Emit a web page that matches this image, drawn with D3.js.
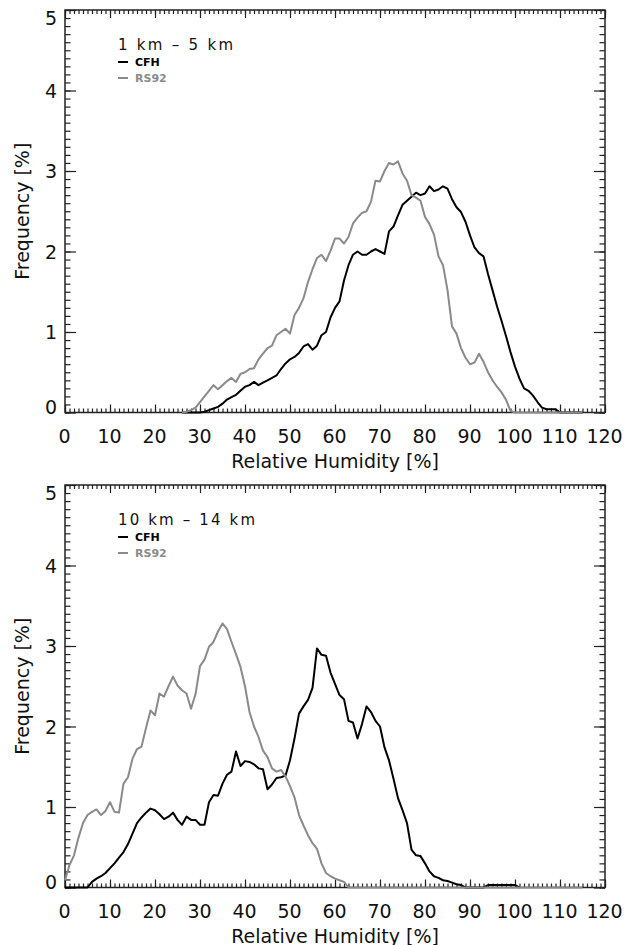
<!DOCTYPE html>
<meta charset="utf-8">
<style>
  body { margin: 0; background: #fff; }
  svg text { font-family: "DejaVu Sans", sans-serif; fill: #111; }
</style>
<svg width="628" height="945"></svg>
<script src="https://d3js.org/d3.v7.min.js"></script>
<script>

// relative humidity bins (1 % wide)
var binsTop = d3.range(26, 116);
var binsBot = d3.range(0, 116);

// 1 km - 5 km
var cfhTop = [0, 0, 0, 0, 0, 0.01, 0.03, 0.05, 0.07, 0.11,
  0.16, 0.19, 0.22, 0.27, 0.32, 0.34, 0.38, 0.34, 0.37, 0.40,
  0.43, 0.46, 0.54, 0.61, 0.66, 0.69, 0.74, 0.82, 0.85, 0.78,
  0.83, 0.96, 1.00, 1.18, 1.30, 1.38, 1.64, 1.83, 1.96, 2.00,
  1.96, 1.96, 2.00, 2.03, 2.00, 1.97, 2.25, 2.31, 2.45, 2.58,
  2.63, 2.68, 2.73, 2.70, 2.72, 2.81, 2.75, 2.77, 2.81, 2.78,
  2.65, 2.55, 2.49, 2.37, 2.20, 2.05, 1.98, 1.94, 1.72, 1.52,
  1.32, 1.14, 0.95, 0.75, 0.57, 0.42, 0.30, 0.27, 0.21, 0.13,
  0.06, 0.04, 0.04, 0.04, 0, 0, 0, 0, 0, 0];
var rs92Top = [0, 0.01, 0.03, 0.06, 0.13, 0.20, 0.27, 0.34, 0.29, 0.34,
  0.39, 0.43, 0.38, 0.48, 0.50, 0.54, 0.55, 0.66, 0.73, 0.80,
  0.83, 0.96, 1.00, 1.04, 0.98, 1.21, 1.30, 1.42, 1.62, 1.78,
  1.92, 1.96, 1.88, 2.01, 2.16, 2.16, 2.10, 2.18, 2.35, 2.42,
  2.48, 2.50, 2.62, 2.88, 2.87, 3.00, 3.10, 3.08, 3.12, 2.97,
  2.88, 2.70, 2.67, 2.63, 2.43, 2.34, 2.21, 1.94, 1.83, 1.52,
  1.07, 0.98, 0.80, 0.68, 0.60, 0.62, 0.73, 0.63, 0.50, 0.40,
  0.32, 0.25, 0.16, 0.02, 0, 0, 0, 0, 0, 0,
  0, 0, 0, 0, 0, 0, 0, 0, 0, 0];

// 10 km - 14 km
var cfhBot = [0, 0, 0, 0, 0, 0, 0.07, 0.11, 0.14, 0.18,
  0.24, 0.30, 0.37, 0.44, 0.54, 0.67, 0.80, 0.87, 0.93, 0.98,
  0.96, 0.91, 0.85, 0.88, 0.93, 0.84, 0.78, 0.88, 0.84, 0.84,
  0.78, 0.78, 1.06, 1.15, 1.14, 1.29, 1.40, 1.44, 1.69, 1.51,
  1.57, 1.56, 1.53, 1.48, 1.47, 1.22, 1.28, 1.36, 1.37, 1.39,
  1.58, 1.85, 2.16, 2.25, 2.33, 2.48, 2.97, 2.89, 2.88, 2.67,
  2.53, 2.39, 2.34, 2.07, 2.05, 1.85, 2.03, 2.25, 2.18, 2.07,
  2.00, 1.74, 1.58, 1.35, 1.11, 0.96, 0.80, 0.47, 0.40, 0.39,
  0.30, 0.20, 0.14, 0.12, 0.09, 0.08, 0.06, 0.04, 0.03, 0,
  0, 0, 0, 0, 0.03, 0.03, 0.03, 0.03, 0.03, 0.03,
  0.03, 0];
var rs92Bot = [0.09, 0.28, 0.40, 0.62, 0.80, 0.90, 0.94, 0.97, 0.90, 0.95,
  1.06, 0.94, 0.93, 1.29, 1.37, 1.60, 1.72, 1.75, 1.98, 2.20,
  2.14, 2.41, 2.37, 2.50, 2.62, 2.51, 2.45, 2.41, 2.22, 2.40,
  2.75, 2.83, 2.99, 3.05, 3.18, 3.28, 3.21, 3.05, 2.90, 2.74,
  2.50, 2.18, 2.00, 1.87, 1.70, 1.62, 1.48, 1.44, 1.46, 1.38,
  1.26, 1.12, 0.90, 0.77, 0.65, 0.55, 0.48, 0.30, 0.18, 0.14,
  0.11, 0.09, 0.07, 0, 0, 0, 0, 0, 0, 0,
  0, 0, 0, 0, 0, 0, 0, 0, 0, 0,
  0, 0, 0, 0, 0, 0, 0, 0, 0, 0,
  0, 0, 0, 0, 0, 0, 0, 0, 0, 0,
  0, 0, 0, 0, 0, 0, 0, 0, 0, 0,
  0, 0, 0, 0, 0, 0];

var xTicks = [0, 10, 20, 30, 40, 50, 60, 70, 80, 90, 100, 110, 120];
var yTicks = [0, 1, 2, 3, 4, 5];

var panels = [
  {top: 10, title: "1 km \u2013 5 km", titleW: 115, bins: binsTop, cfh: cfhTop, rs92: rs92Top},
  {top: 485, title: "10 km \u2013 14 km", titleW: 137, bins: binsBot, cfh: cfhBot, rs92: rs92Bot}
];

var svg = d3.select("svg");
var left = 65, right = 605, ph = 402.5;
var cfhCol = "#000", rsCol = "#8a8a8a";

var x = d3.scaleLinear().domain([0, 120]).range([left, right]);

panels.forEach(function(p) {
  var y = d3.scaleLinear().domain([0, 5]).range([p.top + ph, p.top]);
  var g = svg.append("g");
  var yMinor = d3.range(0, 51).map(function(d) { return d / 10; });

  // minor ticks, all four sides
  g.append("g").attr("transform", "translate(0," + (p.top + ph) + ")")
    .call(d3.axisBottom(x).tickValues(d3.range(0, 121)).tickSize(-4).tickFormat(""));
  g.append("g").attr("transform", "translate(0," + p.top + ")")
    .call(d3.axisTop(x).tickValues(d3.range(0, 121)).tickSize(-4).tickFormat(""));
  g.append("g").attr("transform", "translate(" + left + ",0)")
    .call(d3.axisLeft(y).tickValues(yMinor).tickSize(-5.5).tickFormat(""));
  g.append("g").attr("transform", "translate(" + right + ",0)")
    .call(d3.axisRight(y).tickValues(yMinor).tickSize(-5.5).tickFormat(""));

  // major ticks + labels
  var xb = g.append("g").attr("transform", "translate(0," + (p.top + ph) + ")")
    .call(d3.axisBottom(x).tickValues(xTicks).tickSize(-8).tickPadding(17));
  g.append("g").attr("transform", "translate(0," + p.top + ")")
    .call(d3.axisTop(x).tickValues(xTicks).tickSize(-8).tickFormat(""));
  var yl = g.append("g").attr("transform", "translate(" + left + ",0)")
    .call(d3.axisLeft(y).tickValues(yTicks).tickSize(-11).tickPadding(8).tickFormat(d3.format("d")));
  g.append("g").attr("transform", "translate(" + right + ",0)")
    .call(d3.axisRight(y).tickValues(yTicks).tickSize(-11).tickFormat(""));

  g.selectAll(".domain").remove();
  g.selectAll(".tick line").attr("stroke", "#222").attr("stroke-width", 1.2);

  xb.selectAll("text").attr("font-size", 19).attr("dx", -1)
    .style("font-family", "DejaVu Sans");
  yl.selectAll("text").attr("font-size", 19)
    .style("font-family", "DejaVu Sans")
    .attr("dy", function(d) { return d === 5 ? "0.75em" : (d === 0 ? "0.05em" : "0.36em"); });

  // frame
  g.append("rect")
    .attr("x", left).attr("y", p.top)
    .attr("width", right - left).attr("height", ph)
    .attr("fill", "none").attr("stroke", "#222").attr("stroke-width", 1.5);

  var line = d3.line()
    .x(function(d, i) { return x(p.bins[i]); })
    .y(function(d) { return y(d); });

  g.append("path").datum(p.cfh)
    .attr("d", line).attr("fill", "none")
    .attr("stroke", cfhCol).attr("stroke-width", 2).attr("stroke-linejoin", "round");
  g.append("path").datum(p.rs92)
    .attr("d", line).attr("fill", "none")
    .attr("stroke", rsCol).attr("stroke-width", 2).attr("stroke-linejoin", "round");

  // axis titles
  g.append("text")
    .attr("x", (left + right) / 2).attr("y", p.top + ph + 55)
    .attr("text-anchor", "middle").attr("font-size", 19)
    .text("Relative Humidity [%]");
  g.append("text")
    .attr("transform", "translate(29," + (p.top + ph / 2) + ") rotate(-90)")
    .attr("text-anchor", "middle").attr("font-size", 19)
    .text("Frequency [%]");

  // legend
  var lx = 118, ly = p.top + 40;
  g.append("text").attr("x", lx).attr("y", ly)
    .attr("font-size", 15).attr("textLength", p.titleW).attr("lengthAdjust", "spacing")
    .text(p.title);
  [["CFH", cfhCol], ["RS92", rsCol]].forEach(function(it, i) {
    var yy = ly + 16 + i * 16;
    g.append("line").attr("x1", lx).attr("x2", lx + 10)
      .attr("y1", yy - 4).attr("y2", yy - 4)
      .attr("stroke", it[1]).attr("stroke-width", 2);
    g.append("text").attr("x", lx + 17).attr("y", yy)
      .attr("font-size", 11).attr("font-weight", "bold")
      .style("fill", it[1]).text(it[0]);
  });
});

</script>
